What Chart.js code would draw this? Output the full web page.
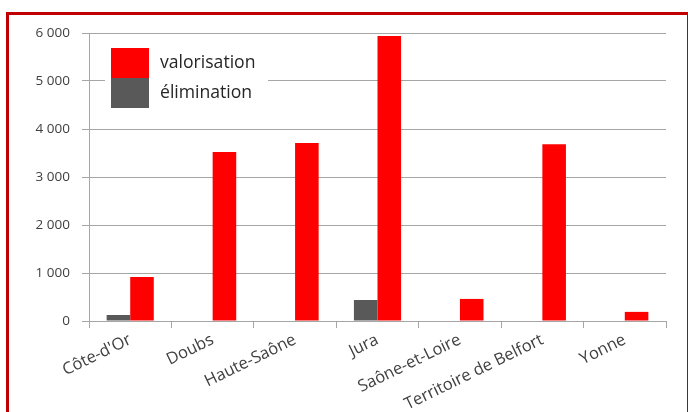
<!DOCTYPE html>
<html>
<head>
<meta charset="utf-8">
<script src="https://cdn.jsdelivr.net/npm/chart.js@4/dist/chart.umd.min.js"></script>
<style>
  html, body { margin: 0; padding: 0; background: #fff; overflow: hidden; }
  #frame { position: absolute; left: 6px; top: 12px; width: 678px; height: 420px; border: 3px solid #c00000; border-bottom: none; }
  #line-chart { position: absolute; left: 0; top: 0; }
</style>
</head>
<body>
<div id="frame"></div>
<canvas id="line-chart" width="688" height="412"></canvas>
<script>
const categories = ["Côte-d'Or", "Doubs", "Haute-Saône", "Jura", "Saône-et-Loire", "Territoire de Belfort", "Yonne"];
const valorisation = [915, 3520, 3710, 5935, 460, 3680, 190];
const elimination = [125, 0, 0, 437, 0, 0, 0];
const yTicks = [0, 1000, 2000, 3000, 4000, 5000, 6000];

function fmt(v) {
  return String(v).replace(/\B(?=(\d{3})+(?!\d))/g, " ");
}

// legend drawn inside the plot, top-left, valorisation first
const insideLegend = {
  id: "insideLegend",
  afterDraw(chart) {
    const ctx = chart.ctx;
    const ds = chart.data.datasets;
    const order = [1, 0];
    ctx.save();
    ctx.fillStyle = "#ffffff";
    ctx.fillRect(105, 42, 163, 70);
    order.forEach(function (i, row) {
      const y = 48 + row * 30;
      ctx.fillStyle = ds[i].backgroundColor;
      ctx.fillRect(111, y, 38, 30);
      ctx.fillStyle = "#262626";
      ctx.font = "17.6px 'Open Sans'";
      ctx.textBaseline = "middle";
      ctx.fillText(ds[i].label, 160, y + 15);
    });
    ctx.restore();
  }
};

const chart = new Chart(document.getElementById("line-chart"), {
  type: "bar",
  data: {
    labels: categories,
    datasets: [{
      label: "élimination",
      data: elimination,
      backgroundColor: "#595959",
      categoryPercentage: 0.572,
      barPercentage: 1.0
    }, {
      label: "valorisation",
      data: valorisation,
      backgroundColor: "#ff0000",
      categoryPercentage: 0.572,
      barPercentage: 1.0
    }]
  },
  options: {
    responsive: false,
    animation: false,
    layout: { padding: { left: 0, right: 22, top: 33, bottom: 0 } },
    scales: {
      x: {
        afterFit: function (s) { s.height = 91; },
        grid: { display: true, drawOnChartArea: false, drawTicks: true, tickLength: 7, color: "#a6a6a6", offset: true },
        border: { display: true, color: "#a6a6a6" },
        ticks: {
          autoSkip: false,
          minRotation: 26,
          maxRotation: 26,
          padding: 2,
          color: "#404040",
          font: { family: "'Open Sans'", size: 16.5 }
        }
      },
      y: {
        min: 0,
        max: 6000,
        afterFit: function (s) { s.width = 89; },
        afterBuildTicks: function (s) { s.ticks = yTicks.map(function (v) { return { value: v }; }); },
        grid: { color: "#a6a6a6", tickLength: 7 },
        border: { display: true, color: "#a6a6a6" },
        ticks: {
          padding: 12,
          color: "#404040",
          font: { family: "'Open Sans'", size: 13.5 },
          callback: function (v) { return fmt(v); }
        }
      }
    },
    plugins: {
      legend: { display: false },
      tooltip: { enabled: false },
      title: { display: false }
    }
  },
  plugins: [insideLegend]
});
</script>
</body>
</html>
